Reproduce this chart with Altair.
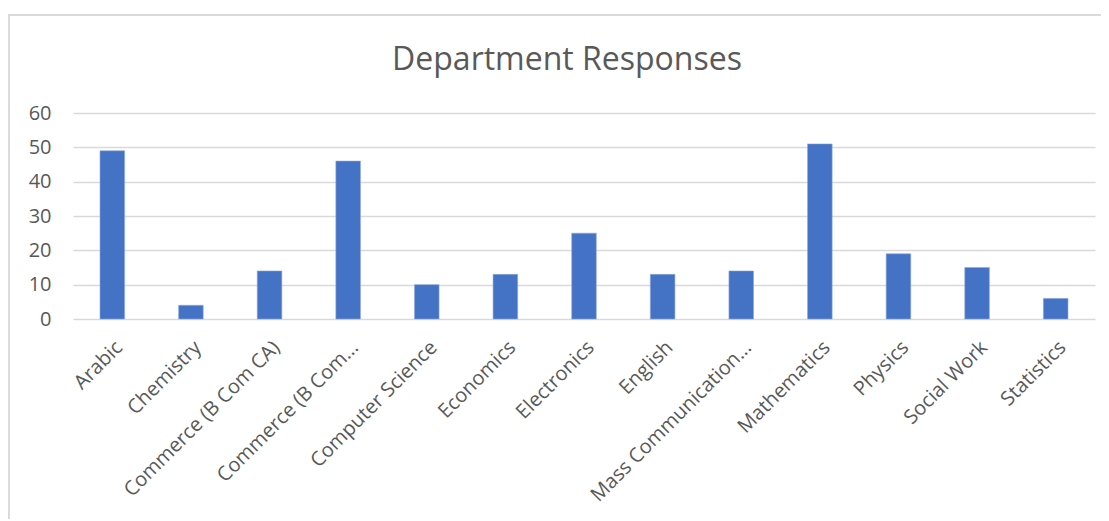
import altair as alt
import pandas as pd

departments = [
    "Arabic", "Chemistry", "Commerce (B Com CA)", "Commerce (B Com...",
    "Computer Science", "Economics", "Electronics", "English",
    "Mass Communication...", "Mathematics", "Physics", "Social Work", "Statistics",
]
responses = [49, 4, 14, 46, 10, 13, 25, 13, 14, 51, 19, 15, 6]
y_ticks = [0, 10, 20, 30, 40, 50, 60]

df = pd.DataFrame({"Department": departments, "Responses": responses})

FONT = "Open Sans"
GRAY = "#595959"

bars = alt.Chart(df).mark_bar(color="#4472c4", stroke="#8faadc", strokeWidth=0.6).encode(
    x=alt.X(
        "Department:N",
        sort=departments,
        title=None,
        scale=alt.Scale(paddingInner=0.687, paddingOuter=0.3435),
        axis=alt.Axis(
            labelAngle=-45,
            labelFont=FONT,
            labelFontSize=20,
            labelColor=GRAY,
            ticks=False,
            domain=False,
            labelPadding=18,
            labelLimit=400,
        ),
    ),
    y=alt.Y(
        "Responses:Q",
        title=None,
        scale=alt.Scale(domain=[0, 60]),
        axis=alt.Axis(
            values=y_ticks,
            labelFont=FONT,
            labelFontSize=20,
            labelColor=GRAY,
            ticks=False,
            domain=False,
            labelPadding=22,
            gridColor="#d9d9d9",
            gridWidth=1.5,
        ),
    ),
)

border_top = alt.Chart(df).mark_rule(color="#d9d9d9", strokeWidth=1.5).encode(
    x=alt.value(-65), x2=alt.value(1100), y=alt.value(-98)
)
border_left = alt.Chart(df).mark_rule(color="#d9d9d9", strokeWidth=1.5).encode(
    x=alt.value(-64.5), y=alt.value(-98), y2=alt.value(420)
)

chart = alt.layer(border_top, border_left, bars).properties(
    width=1022,
    height=206,
    title=alt.TitleParams(
        "Department Responses",
        font=FONT,
        fontSize=32,
        fontWeight="normal",
        color=GRAY,
        anchor="middle",
        offset=-63,
        dx=-17,
    ),
    autosize=alt.AutoSizeParams(type="none"),
    padding={"left": 65, "top": 105, "right": 6, "bottom": 200},
).configure_view(stroke=None).configure_axisX(grid=False)

chart.save("out.html", embed_options={"renderer": "svg", "actions": False})
